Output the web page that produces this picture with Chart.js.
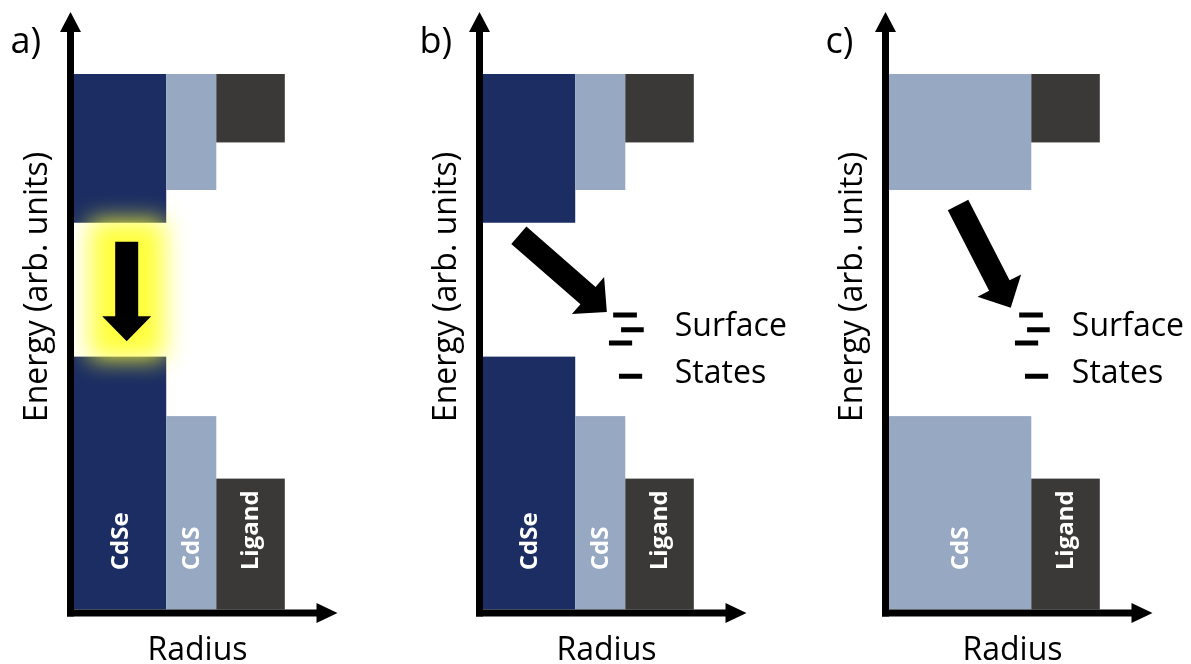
<!DOCTYPE html>
<html>
<head>
<meta charset="utf-8">
<script src="https://cdn.jsdelivr.net/npm/chart.js@4.4.0/dist/chart.umd.min.js"></script>
<style>
  html, body { margin: 0; padding: 0; background: #fff; overflow: hidden; }
  #wrap { position: relative; width: 1191px; height: 664px; overflow: hidden; }
  #wrap canvas { position: absolute; top: 0; }
</style>
</head>
<body>
<div id="wrap">
  <canvas id="panelA" width="382" height="664" style="left:0px"></canvas>
  <canvas id="panelB" width="382" height="664" style="left:409px"></canvas>
  <canvas id="panelC" width="382" height="664" style="left:815px"></canvas>
</div>
<script>
// radius in arbitrary units (0-5), energy in arbitrary units (0-10)
const layerNames = ['CdSe', 'CdS', 'Ligand'];
const layerOuterRadius = [1.75, 2.7, 4.0];
const conductionEdge = [6.5, 7.05, 7.85];
const valenceEdge = [4.25, 3.25, 2.2];
const bandTop = 9.0;

// core-free particle: CdS reaches the centre
const shellNames = ['CdS', 'Ligand'];
const shellOuterRadius = [2.7, 4.0];
const shellConduction = [7.05, 7.85];
const shellValence = [3.25, 2.2];

// trap levels at the surface
const stateEnergy = [4.95, 4.7, 4.48, 3.92];
const stateFrom = [2.47, 2.62, 2.39, 2.58];
const stateTo = [2.92, 3.05, 2.83, 3.02];
const stateLabels = ['Surface', 'States'];
const stateLabelEnergy = [4.6, 3.81];

const panelLetters = ['a)', 'b)', 'c)'];
// relaxation arrows: [r0, E0, r1, E1]
const arrowA = [1.0, 6.18, 1.0, 4.51];
const arrowB = [0.68, 6.29, 2.35, 5.0];
const arrowC = [1.31, 6.8, 2.31, 5.07];

const layerColors = { CdSe: '#1b2d63', CdS: '#97a8c3', Ligand: '#3a3938' };
const FONT = '"Open Sans", "Noto Sans", sans-serif';

function drawArrow(ctx, x0, y0, x1, y1, shaft, head, headLen) {
  const ang = Math.atan2(y1 - y0, x1 - x0);
  const len = Math.hypot(x1 - x0, y1 - y0);
  ctx.save();
  ctx.translate(x0, y0);
  ctx.rotate(ang);
  ctx.beginPath();
  ctx.moveTo(0, -shaft / 2);
  ctx.lineTo(len - headLen, -shaft / 2);
  ctx.lineTo(len - headLen, -head / 2);
  ctx.lineTo(len, 0);
  ctx.lineTo(len - headLen, head / 2);
  ctx.lineTo(len - headLen, shaft / 2);
  ctx.lineTo(0, shaft / 2);
  ctx.closePath();
  ctx.fill();
  ctx.restore();
}

const bandPlugin = {
  id: 'bandDiagram',
  beforeDatasetsDraw(chart, args, opts) {
    const { ctx, scales: { x, y } } = chart;
    const p = opts.panel;
    ctx.save();
    let inner = 0;
    p.names.forEach((name, i) => {
      const x0 = x.getPixelForValue(inner);
      const x1 = x.getPixelForValue(p.radius[i]);
      const yTop = y.getPixelForValue(bandTop);
      const yCb = y.getPixelForValue(p.cb[i]);
      const yVb = y.getPixelForValue(p.vb[i]);
      const yZero = y.getPixelForValue(0);
      ctx.fillStyle = layerColors[name];
      ctx.fillRect(x0, yTop, x1 - x0, yCb - yTop);
      ctx.fillRect(x0, yVb, x1 - x0, yZero - yVb);
      inner = p.radius[i];
    });

    // glow around the band-edge emission
    if (p.glow) {
      const gx0 = x.getPixelForValue(0.3);
      const gx1 = x.getPixelForValue(1.72);
      const gy0 = y.getPixelForValue(p.cb[0]);
      const gy1 = y.getPixelForValue(p.vb[0]);
      ctx.filter = 'blur(12px)';
      ctx.fillStyle = 'rgba(255, 255, 50, 0.95)';
      ctx.fillRect(gx0, gy0 - 2, gx1 - gx0, gy1 - gy0 + 4);
      ctx.filter = 'none';
    }

    // labels inside the valence blocks
    ctx.fillStyle = '#ffffff';
    ctx.font = 'bold 24px ' + FONT;
    ctx.textAlign = 'left';
    ctx.textBaseline = 'middle';
    inner = 0;
    p.names.forEach((name, i) => {
      const cx = (x.getPixelForValue(inner) + x.getPixelForValue(p.radius[i])) / 2;
      ctx.save();
      ctx.translate(cx, y.getPixelForValue(0.66));
      ctx.rotate(-Math.PI / 2);
      ctx.fillText(name, 0, 1);
      ctx.restore();
      inner = p.radius[i];
    });
    ctx.restore();
  },
  afterDatasetsDraw(chart, args, opts) {
    const { ctx, chartArea, scales: { x, y } } = chart;
    const p = opts.panel;
    ctx.save();
    ctx.fillStyle = '#000';

    const a = p.arrow;
    drawArrow(ctx, x.getPixelForValue(a[0]), y.getPixelForValue(a[1]),
      x.getPixelForValue(a[2]), y.getPixelForValue(a[3]), 23, 49, 25);

    if (p.states) {
      ctx.font = '32px ' + FONT;
      ctx.textAlign = 'left';
      ctx.textBaseline = 'alphabetic';
      stateLabels.forEach((t, i) => {
        ctx.fillText(t, x.getPixelForValue(p.stateLabelR), y.getPixelForValue(stateLabelEnergy[i]));
      });
    }

    // axes with arrowheads
    const axX = chartArea.left - 3.5;
    const axY = chartArea.bottom + 3.5;
    drawArrow(ctx, axX, axY + 3.5, axX, chartArea.top - 2.5, 7, 21, 20);
    drawArrow(ctx, axX - 3.5, axY, chartArea.right, axY, 7, 20, 21);

    ctx.font = '32px ' + FONT;
    ctx.textAlign = 'center';
    ctx.textBaseline = 'alphabetic';
    ctx.fillText('Radius', axX + 127, chartArea.bottom + 50.5);

    ctx.save();
    ctx.translate(axX - 32.5, 287);
    ctx.rotate(-Math.PI / 2);
    ctx.textBaseline = 'middle';
    ctx.fillText('Energy (arb. units)', 0, 0);
    ctx.restore();

    ctx.font = '36px ' + FONT;
    ctx.textAlign = 'left';
    ctx.fillText(p.letter, axX - 60, 53);
    ctx.restore();
  }
};

function makePanel(id, panel) {
  const datasets = panel.states ? stateEnergy.map((e, i) => ({
    data: [{ x: stateFrom[i], y: e }, { x: stateTo[i], y: e }],
    borderColor: '#000',
    borderWidth: 5,
    borderCapStyle: 'butt',
    pointRadius: 0
  })) : [];
  return new Chart(document.getElementById(id), {
    type: 'line',
    data: { datasets },
    options: {
      responsive: false,
      animation: false,
      events: [],
      layout: { padding: { left: 74, right: 44.5, top: 14.5, bottom: 54.5 } },
      scales: {
        x: { type: 'linear', min: 0, max: 5, display: false },
        y: { type: 'linear', min: 0, max: 10, display: false }
      },
      plugins: {
        legend: { display: false },
        tooltip: { enabled: false },
        bandDiagram: { panel }
      }
    },
    plugins: [bandPlugin]
  });
}

makePanel('panelA', {
  letter: panelLetters[0], names: layerNames, radius: layerOuterRadius,
  cb: conductionEdge, vb: valenceEdge, arrow: arrowA, glow: true, states: false
});
makePanel('panelB', {
  letter: panelLetters[1], names: layerNames, radius: layerOuterRadius,
  cb: conductionEdge, vb: valenceEdge, arrow: arrowB, glow: false, states: true, stateLabelR: 3.64
});
makePanel('panelC', {
  letter: panelLetters[2], names: shellNames, radius: shellOuterRadius,
  cb: shellConduction, vb: shellValence, arrow: arrowC, glow: false, states: true, stateLabelR: 3.47
});
</script>
</body>
</html>
